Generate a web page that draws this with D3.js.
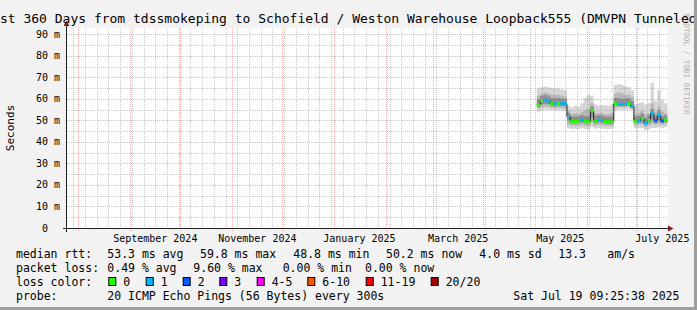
<!DOCTYPE html>
<head>
<meta charset="utf-8">
<script src="https://d3js.org/d3.v7.min.js"></script>
<style>
  body { margin: 0; background: #f2f2f2; }
  svg text { font-family: "DejaVu Sans Mono", monospace; white-space: pre; }
</style>
</head>
<body>
<div id="chart"></div>
<script>
// ---- data (2-day buckets) ----
var bucketDays = ["2025-05-02","2025-05-04","2025-05-06","2025-05-08","2025-05-10","2025-05-12","2025-05-14","2025-05-16","2025-05-18",
  "2025-05-20","2025-05-22","2025-05-24","2025-05-26","2025-05-28","2025-05-30","2025-06-01","2025-06-03",
  "2025-06-05","2025-06-07","2025-06-09","2025-06-11","2025-06-13","2025-06-15",
  "2025-06-17","2025-06-19","2025-06-21","2025-06-23","2025-06-25","2025-06-27",
  "2025-06-29","2025-07-01","2025-07-03","2025-07-05","2025-07-07","2025-07-09","2025-07-11","2025-07-13","2025-07-15","2025-07-17"];
var medianRtt = [57.2,59.2,59.4,59.0,57.8,57.8,58.0,57.8,57.7,
  51.8,49.6,49.5,49.8,50.2,49.6,49.5,54.6,
  49.8,50.2,50.0,49.5,49.4,49.5,
  57.8,57.6,57.5,57.6,57.8,56.6,
  49.6,49.8,51.0,48.8,50.0,53.3,49.9,52.5,49.8,50.2];
var lossCount = [0,0,1,1,0,1,0,1,1, 1,0,0,0,1,0,0,0, 0,1,1,0,0,0, 0,1,1,1,0,1, 0,1,0,1,0,1,2,1,2,0];
var smokeMax = [65.0,65.5,65.8,65.5,65.2,64.8,65.0,64.5,64.0,
  57.0,56.0,57.0,56.5,58.0,60.5,62.0,61.5,
  57.5,57.0,57.2,57.0,56.8,57.5,
  66.5,67.0,66.5,66.0,65.5,64.0,
  57.5,58.0,58.5,57.5,58.0,67.5,59.0,64.0,59.5,58.0];
var smokeHi = [61.5,62.5,63.0,62.5,62.0,61.8,62.0,61.5,61.0,
  54.5,53.0,53.5,53.0,54.0,55.0,55.5,58.0,
  53.5,53.5,53.5,53.0,53.0,53.5,
  62.5,63.0,62.5,62.0,62.0,61.0,
  53.0,53.5,54.5,53.0,53.5,58.0,54.0,56.5,54.0,53.5];
var coreHi = [60.0,61.5,61.8,61.3,60.3,60.3,60.5,60.2,60.0,
  53.5,51.8,51.8,52.0,52.5,52.0,52.0,56.5,
  52.0,52.5,52.3,51.8,51.7,51.8,
  60.5,60.3,60.0,60.2,60.3,59.0,
  51.8,52.2,53.2,51.2,52.3,55.5,52.2,54.8,52.0,52.3];
var coreLo = [56.3,57.5,57.8,57.6,56.8,56.8,57.0,56.8,56.7,
  50.0,48.7,48.6,48.8,49.2,48.7,48.6,51.5,
  48.8,49.2,49.0,48.6,48.5,48.6,
  57.0,56.9,56.8,56.9,57.1,55.8,
  48.7,48.9,49.6,47.9,48.9,50.5,48.9,50.0,48.9,49.2];
var smokeLo = [55.5,56.0,56.5,56.3,56.0,55.8,56.0,55.8,55.6,
  48.0,47.5,47.6,47.5,48.0,47.5,47.3,49.0,
  47.6,48.0,47.8,47.5,47.4,47.6,
  56.0,56.3,56.2,56.3,56.5,55.5,
  47.8,48.0,48.2,47.0,47.5,48.5,48.0,48.5,48.0,48.2];
var smokeMin = [54.0,54.5,55.0,55.0,54.8,54.6,54.8,54.5,54.4,
  46.5,46.0,46.2,46.0,46.5,46.0,45.8,47.0,
  46.2,46.5,46.3,46.0,46.0,46.2,
  54.5,55.0,55.0,55.0,55.2,54.5,
  46.5,46.5,46.5,45.5,45.8,46.5,46.5,46.8,46.5,47.0];

var yTicks = [0,10,20,30,40,50,60,70,80,90];
var yTickLabels = ["0  ","10 m","20 m","30 m","40 m","50 m","60 m","70 m","80 m","90 m"];
var xLabelDays = ["2024-09-16","2024-11-16","2025-01-16","2025-03-16","2025-05-16","2025-07-16"];
var xLabels = ["September 2024","November 2024","January 2025","March 2025","May 2025","July 2025"];

var titleText = "Last 360 Days from tdssmokeping to Schofield / Weston Warehouse Loopback555 (DMVPN Tunneled)";
var rttStats = ["median rtt:","53.3 ms avg","59.8 ms max","48.8 ms min","50.2 ms now","4.0 ms sd","13.3","am/s"];
var lossStats = ["packet loss:","0.49 % avg","9.60 % max","0.00 % min","0.00 % now"];
var lossNames = ["0","1","2","3","4-5","6-10","11-19","20/20"];
var lossColors = ["#26ff00","#00b8ff","#0059ff","#7e00ff","#ff00ff","#ff5500","#ff0000","#a10000"];
var probeText = ["probe:","20 ICMP Echo Pings (56 Bytes) every 300s","Sat Jul 19 09:25:38 2025"];

// ---- layout ----
var W = 697, H = 310;
var svg = d3.select("#chart").append("svg").attr("width", W).attr("height", H);
svg.append("rect").attr("width", W).attr("height", H).attr("fill", "#f2f2f2");

var parse = d3.timeParse("%Y-%m-%d");
var x = d3.scaleTime()
  .domain([new Date(2024, 6, 25, 6, 0), new Date(2025, 6, 19, 9, 25)])
  .range([67, 668]);
var y = d3.scaleLinear().domain([0, 93]).range([228, 28]);

svg.append("rect").attr("x", 67).attr("y", 28).attr("width", 601).attr("height", 200).attr("fill", "#fff");

svg.append("clipPath").attr("id", "plot").append("rect")
  .attr("x", 67).attr("y", 28).attr("width", 601).attr("height", 200);

var rows = bucketDays.map(function(d, i) {
  return {t: parse(d), med: medianRtt[i], loss: lossCount[i],
          max: smokeMax[i], hi: smokeHi[i], chi: coreHi[i], clo: coreLo[i], lo: smokeLo[i], min: smokeMin[i]};
});
// closing point so step curves cover the last bucket
var last = rows[rows.length - 1];
rows.push(Object.assign({}, last, {t: d3.timeDay.offset(last.t, 2)}));

var g = svg.append("g").attr("clip-path", "url(#plot)");

function band(lo, hi, fill) {
  g.append("path").datum(rows).attr("fill", fill)
    .attr("d", d3.area().curve(d3.curveStepAfter).x(function(d){ return x(d.t); })
      .y0(function(d){ return y(d[lo]); }).y1(function(d){ return y(d[hi]); }));
}
// smoke
band("min", "max", "#d6d6d6");
band("lo", "hi", "#b8b8b8");
band("clo", "chi", "#8e8e8e");

// median
g.append("path").datum(rows).attr("fill", "none").attr("stroke", "#202020").attr("stroke-width", 1)
  .attr("d", d3.line().curve(d3.curveStepAfter).x(function(d){ return x(d.t); }).y(function(d){ return y(d.med); }));

function lossClass(n) {
  if (n <= 3) return n;
  if (n <= 5) return 4;
  if (n <= 10) return 5;
  if (n <= 19) return 6;
  return 7;
}
g.selectAll(".seg").data(rows.slice(0, -1)).enter().append("line")
  .attr("x1", function(d){ return x(d.t); })
  .attr("x2", function(d){ return x(d3.timeDay.offset(d.t, 2)); })
  .attr("y1", function(d){ return y(d.med); })
  .attr("y2", function(d){ return y(d.med); })
  .attr("stroke", function(d){ return lossColors[lossClass(d.loss)]; })
  .attr("stroke-width", 3);

// grid (drawn over the data like rrdtool)
var grid = svg.append("g");
var minorCol = "rgba(143,143,143,0.45)", majorCol = "rgba(222,79,79,0.42)";
var minorY = d3.range(5, 93, 10);
grid.selectAll(".hmin").data(minorY).enter().append("line")
  .attr("x1", 67).attr("x2", 668)
  .attr("y1", function(d){ return Math.round(y(d)) + 0.5; })
  .attr("y2", function(d){ return Math.round(y(d)) + 0.5; })
  .attr("stroke", minorCol).attr("stroke-dasharray", "1,1");
var weeks = d3.timeMonday.range(x.domain()[0], x.domain()[1]);
grid.selectAll(".vmin").data(weeks).enter().append("line")
  .attr("x1", function(d){ return Math.round(x(d)) + 0.5; })
  .attr("x2", function(d){ return Math.round(x(d)) + 0.5; })
  .attr("y1", 28).attr("y2", 228)
  .attr("stroke", minorCol).attr("stroke-dasharray", "1,1");
grid.selectAll(".hmaj").data(yTicks.slice(1)).enter().append("line")
  .attr("x1", 67).attr("x2", 668)
  .attr("y1", function(d){ return Math.round(y(d)) + 0.5; })
  .attr("y2", function(d){ return Math.round(y(d)) + 0.5; })
  .attr("stroke", majorCol).attr("stroke-dasharray", "1,1");
var months = d3.timeMonth.range(x.domain()[0], x.domain()[1]);
grid.selectAll(".vmaj").data(months).enter().append("line")
  .attr("x1", function(d){ return Math.round(x(d)) + 0.5; })
  .attr("x2", function(d){ return Math.round(x(d)) + 0.5; })
  .attr("y1", 28).attr("y2", 231)
  .attr("stroke", majorCol).attr("stroke-dasharray", "1,1");

// axes
svg.append("line").attr("x1", 63).attr("x2", 670).attr("y1", 228.5).attr("y2", 228.5).attr("stroke", "#1f1f1f");
svg.append("line").attr("x1", 66.5).attr("x2", 66.5).attr("y1", 232).attr("y2", 25).attr("stroke", "#1f1f1f");
svg.append("path").attr("d", "M668,225.5L673.5,228.5L668,231.5Z").attr("fill", "#801f1f");
svg.append("path").attr("d", "M63.5,26L66.5,20.5L69.5,26Z").attr("fill", "#801f1f");

// y labels
svg.selectAll(".yl").data(yTicks).enter().append("text")
  .attr("x", 60).attr("y", function(d){ return y(d) + 3.5; })
  .attr("text-anchor", "end").attr("font-size", "10px")
  .text(function(d, i){ return yTickLabels[i]; });

// x labels
svg.selectAll(".xl").data(xLabelDays).enter().append("text")
  .attr("x", function(d){ return x(parse(d)); }).attr("y", 241.5)
  .attr("text-anchor", "middle").attr("font-size", "10px")
  .text(function(d, i){ return xLabels[i]; });

// y axis title
svg.append("text").attr("transform", "translate(14,128) rotate(-90)")
  .attr("text-anchor", "middle").attr("font-size", "11px").text("Seconds");

// watermark
svg.append("text").attr("transform", "translate(684,14) rotate(90)")
  .attr("font-size", "7.6px").attr("fill", "#b0b0b0").text("RRDTOOL / TOBI OETIKER");

// title (wider than the image, clipped at both ends as in the original)
svg.append("text").attr("x", -15.7).attr("y", 23).attr("font-size", "13px").text(titleText);

// legend
var fs = "11.5px";
var rttX = [16, 107.3, 200, 293.3, 386, 479.3, 558.3, 607.3];
svg.selectAll(".l1").data(rttStats).enter().append("text")
  .attr("x", function(d, i){ return rttX[i]; }).attr("y", 258).attr("font-size", fs).text(function(d){ return d; });
var lossX = [16, 107.3, 193.3, 282.7, 365];
svg.selectAll(".l2").data(lossStats).enter().append("text")
  .attr("x", function(d, i){ return lossX[i]; }).attr("y", 272).attr("font-size", fs).text(function(d){ return d; });
svg.append("text").attr("x", 16).attr("y", 286).attr("font-size", fs).text("loss color:");
var boxX = [108.3, 145.7, 182.7, 219.3, 256.7, 307.3, 365.7, 430.7];
svg.selectAll(".lb").data(lossNames).enter().append("rect")
  .attr("x", function(d, i){ return boxX[i] + 0.5; }).attr("y", 277.5)
  .attr("width", 7).attr("height", 8)
  .attr("fill", function(d, i){ return lossColors[i]; }).attr("stroke", "#000");
svg.selectAll(".lt").data(lossNames).enter().append("text")
  .attr("x", function(d, i){ return boxX[i] + 15; }).attr("y", 286).attr("font-size", fs).text(function(d){ return d; });
var probeX = [16, 107.3, 513.3];
svg.selectAll(".l4").data(probeText).enter().append("text")
  .attr("x", function(d, i){ return probeX[i]; }).attr("y", 299.5).attr("font-size", fs).text(function(d){ return d; });

// frame shading
svg.append("rect").attr("x", 0).attr("y", H - 3).attr("width", W).attr("height", 3).attr("fill", "#9e9e9e");
svg.append("rect").attr("x", W - 3).attr("y", 0).attr("width", 3).attr("height", H).attr("fill", "#9e9e9e");
</script>
</body>
